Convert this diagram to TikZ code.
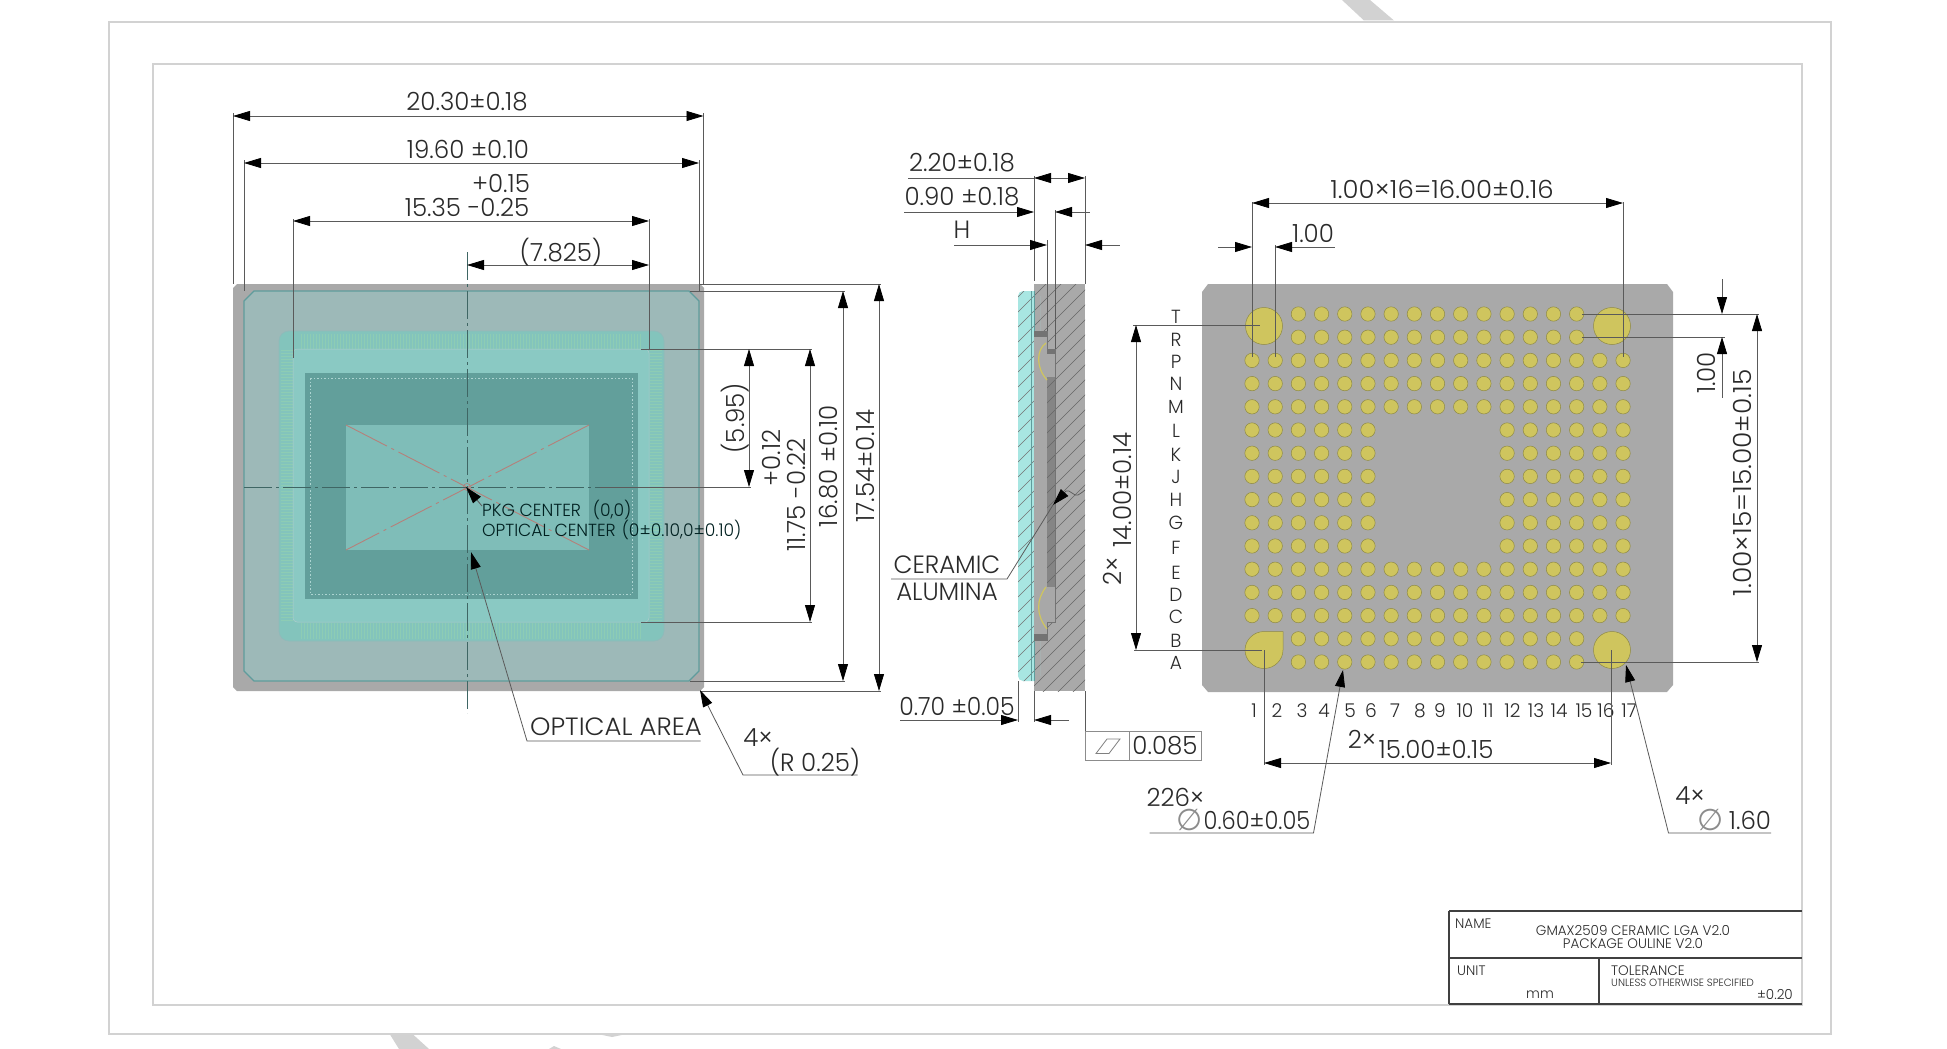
\documentclass[tikz,border=0pt]{standalone}
\usepackage{fontspec}
\usetikzlibrary{arrows.meta}
\setmainfont{Poppins}[UprightFont=* Light,FakeStretch=0.98]
\newfontfamily\symfont{DejaVu Sans}
\definecolor{pkg}{HTML}{A9A9A9}
\definecolor{frameg}{HTML}{D2D2D2}
\definecolor{glassf}{HTML}{9DB9B8}
\definecolor{glassb}{HTML}{5F9C9C}
\definecolor{subf}{HTML}{83C4BC}
\definecolor{innerf}{HTML}{8AC9C3}
\definecolor{dief}{HTML}{629F9B}
\definecolor{optf}{HTML}{7FBDB8}
\definecolor{bandg}{HTML}{8DCCB4}
\definecolor{padf}{HTML}{CFC55E}
\definecolor{padb}{HTML}{8F8A45}
\definecolor{dimc}{HTML}{5A5A5A}
\definecolor{txtc}{HTML}{2A2A2A}
\definecolor{redl}{HTML}{B5807A}
\definecolor{cyanf}{HTML}{A8E6E2}
\definecolor{cline}{HTML}{3F6664}
\tikzset{
  dimline/.style={draw=dimc,line width=0.8pt},
  dim/.style={dimline,{Triangle[length=17pt,width=10pt,black]}-{Triangle[length=17pt,width=10pt,black]}},
  tip/.style={dimline,-{Triangle[length=17pt,width=10pt,black]}},
  ctip/.style={draw=dimc,line width=0.8pt,{Triangle[length=17pt,width=10pt,black]}-},
  lbl/.style={inner sep=0pt,text=txtc,font=\fontsize{25}{25}\selectfont},
  pkgt/.style={inner sep=0pt,anchor=west,text=black!75!teal,font=\fontsize{17.5}{17.5}\selectfont},
  tb/.style={inner sep=0pt,text=txtc,font=\fontsize{13.8}{13.8}\selectfont},
  pad/.style={fill=padf,draw=padb,line width=0.5pt},
  cdash/.style={draw=cline,line width=0.6pt,dash pattern=on 28pt off 4pt on 3pt off 4pt},
  hatch/.style={draw=black!60,line width=0.6pt},
  ghatch/.style={draw=black!55,line width=0.6pt}
}
\begin{document}
\begin{tikzpicture}[x=1pt,y=-1pt]
\useasboundingbox (0,0) rectangle (1947,1049);
\fill[white] (0,0) rectangle (1947,1049);
% background bits
\fill[frameg] (1342,0)--(1370,0)--(1394,20.5)--(1364,20.5)--cycle;
\fill[frameg] (390,1034.5)--(413,1034.5)--(429,1049)--(399,1049)--cycle;
\fill[frameg] (600,1034.5)--(624,1034.5)--(612,1037)--cycle;
\fill[frameg] (549,1049)--(554,1046)--(561,1049)--cycle;
\draw[frameg,line width=1.4pt] (109,22) rectangle (1831,1034);
\draw[frameg,line width=1.4pt] (153,64) rectangle (1802,1005);

%%% TOP VIEW
\fill[pkg] (237,284)--(700,284)--(704,288)--(704,687)--(700,691)--(237,691)--(233,687)--(233,288)--cycle;
\filldraw[fill=glassf,draw=glassb,line width=1.2pt] (254,291)--(689,291)--(699,301)--(699,671)--(689,681)--(254,681)--(244,671)--(244,301)--cycle;
\filldraw[fill=subf,draw=glassb!70,line width=0.7pt,rounded corners=10pt] (279,331) rectangle (664,641);
% bond finger bands
\foreach \x in {301,304,...,641} {
  \draw[bandg,line width=0.8pt] (\x,334)--(\x,349);
  \draw[bandg,line width=0.8pt] (\x,623)--(\x,639);
}
\foreach \y in {350,353,...,622} {
  \draw[bandg,line width=0.8pt] (281,\y)--(293,\y);
  \draw[bandg,line width=0.8pt] (650,\y)--(662,\y);
}
\filldraw[fill=innerf,draw=glassb!50,line width=0.5pt,rounded corners=4pt] (293,349) rectangle (649,622);
\fill[dief] (305,373) rectangle (638,599);
\draw[line width=1pt,draw=optf!65!white,dash pattern=on 1.5pt off 2pt] (310,378) rectangle (632,594);
\fill[optf] (346,425) rectangle (589,550);
% diagonals and centre lines
\draw[redl,line width=0.9pt,dash pattern=on 46pt off 5pt on 3pt off 5pt] (346,425)--(589,550);
\draw[redl,line width=0.9pt,dash pattern=on 46pt off 5pt on 3pt off 5pt] (589,425)--(346,550);
\draw[redl,line width=0.6pt] (467,487) circle (3.5pt);
\draw[cdash] (467,252)--(467,713);
\draw[cdash] (244,487)--(600,487);
\draw[dimc,line width=0.8pt] (600,487)--(751,487);

% ext lines
\draw[dimline] (233,113)--(233,284);
\draw[dimline] (703.5,113)--(703.5,284);
\draw[dimline] (244,160)--(244,291);
\draw[dimline] (699,160)--(699,291);
\draw[dimline] (293,219)--(293,358);
\draw[dimline] (649,219)--(649,349);
\draw[dimline] (700,284)--(881,284);
\draw[dimline] (690,291)--(845,291);
\draw[dimline] (641,349)--(812,349);
\draw[dimline] (641,622)--(812,622);
\draw[dimline] (690,681)--(845,681);
\draw[dimline] (700,691)--(881,691);
% dims
\draw[dim] (233,116)--(703.5,116);
\draw[dim] (244,163)--(699,163);
\draw[dim] (293,221)--(649,221);
\draw[dim] (467,265)--(649,265);
\draw[dim] (879,284)--(879,691);
\draw[dim] (843,291)--(843,681);
\draw[dim] (810,349)--(810,622);
\draw[dim] (749,349)--(749,487);

\node[lbl] (d2030) at (467,102) {20.30±0.18};
\node[lbl] (d1960) at (468,149) {19.60 ±0.10};
\node[lbl] (dplus) at (501,183) {+0.15};
\node[lbl] (d1535) at (467,207) {15.35 -0.25};
\node[lbl] (d7825) at (561,252) {(7.825)};
\node[lbl,rotate=90] (d1754) at (865,466) {17.54±0.14};
\node[lbl,rotate=90] (d1680) at (829,466) {16.80 ±0.10};
\node[lbl,rotate=90] (d1175) at (796,495) {11.75 -0.22};
\node[lbl,rotate=90] (dp012) at (771,458) {+0.12};
\node[lbl,rotate=90] (d595) at (735,418) {(5.95)};

\node[pkgt] (pk1) at (482,510) {PKG CENTER\hspace{12pt}(0,0)};
\node[pkgt] (pk2) at (482,530) {OPTICAL CENTER\hspace{6pt}(0±0.10,0±0.10)};
\coordinate (pkgc) at (466,487);
\draw[ctip] (pkgc)--(482,506);

\coordinate (oatip) at (471,552);
\coordinate (oab) at (527,741);
\draw[ctip] (oatip)--(oab)--(700.5,741);
\node[lbl] (oa) at (616,727) {\scalebox{1.06}[1]{OPTICAL AREA}};
\coordinate (rtip) at (700,690);
\draw[ctip] (rtip)--(743,775)--(857.5,775);
\node[lbl] (r4) at (758,738) {4×};
\node[lbl] (r025) at (815,762) {(R 0.25)};

%%% SIDE VIEW
\fill[pkg] (1034,284) rectangle (1085,691);
\begin{scope}
\clip (1034,284) rectangle (1085,691);
\foreach \x in {600,615,...,1100} { \draw[hatch] (\x,700)--(\x+450,250); }
\end{scope}
\fill[cyanf,rounded corners=5pt] (1018,291) rectangle (1040,681);
\fill[pkg] (1034,284) rectangle (1040,691);
\begin{scope}
\clip (1034,284) rectangle (1040,691);
\foreach \x in {600,615,...,1100} { \draw[hatch] (\x,700)--(\x+450,250); }
\end{scope}
\begin{scope}
\clip[rounded corners=5pt] (1018,291) rectangle (1044,681);
\clip (1018,291) rectangle (1034,681);
\foreach \x in {600,615,...,1100} { \draw[ghatch] (\x,700)--(\x+450,250); }
\end{scope}
\draw[glassb,line width=0.5pt] (1031,291)--(1031,681);
\draw[glassb,line width=0.6pt] (1034,291)--(1034,681);
% cavity
\fill[black!34] (1034,331) rectangle (1047,640);
\fill[black!55] (1034,331) rectangle (1047,337);
\fill[black!55] (1034,634) rectangle (1047,640);
\fill[black!34] (1047,349) rectangle (1055,622);
\fill[black!55] (1047,349) rectangle (1055,354);
\fill[black!48] (1047,377) rectangle (1055,587);
\begin{scope}
\clip (1047,377) rectangle (1055,587);
\foreach \x in {600,615,...,1100} { \draw[hatch] (\x,700)--(\x+450,250); }
\end{scope}
\draw[black!55,line width=0.5pt] (1034,331)--(1047,331)--(1047,349)--(1055,349)--(1055,622)--(1047,622)--(1047,640)--(1034,640);
\draw[padf,line width=1.2pt] (1046,343) .. controls (1036,350) and (1036,368) .. (1047,380);
\draw[padf,line width=1.2pt] (1046,587) .. controls (1036,600) and (1036,615) .. (1047,629);
% side dims
\draw[dimline] (1034,176)--(1034,281);
\draw[dimline] (1085,176)--(1085,284);
\draw[dimline] (1047,240)--(1047,331);
\draw[dimline] (1055,210)--(1055,349);
\draw[dim] (1034,178)--(1085,178);
\draw[dimline] (908,178)--(1034,178);
\node[lbl] (d220) at (962,163) {2.20±0.18};
\draw[tip] (904,212)--(1034,212);
\draw[ctip] (1055,212)--(1090,212);
\node[lbl] (d090) at (962,197) {0.90 ±0.18};
\draw[tip] (954,245)--(1047,245);
\draw[ctip] (1085,245)--(1120,245);
\node[lbl] (dh) at (962,230) {H};
\draw[dimline] (1018,681)--(1018,722);
\draw[dimline] (1034,691)--(1034,722);
\draw[tip] (900,720)--(1018,720);
\draw[ctip] (1034,720)--(1069,720);
\node[lbl] (d070) at (957,706) {\scalebox{.96}[1]{0.70 ±0.05}};
% flatness
\draw[dimline] (1085,691)--(1085,731);
\draw[black!45,line width=1pt] (1085,731) rectangle (1201,760);
\draw[black!45,line width=1pt] (1129,731)--(1129,760);
\draw[black!50,line width=0.8pt] (1096,753.5)--(1107,739)--(1120,739)--(1109,753.5)--cycle;
\node[lbl] (d085) at (1165,746) {0.085};
% ceramic
\node[lbl] (cer) at (947,565) {CERAMIC};
\node[lbl] (alu) at (947,592) {ALUMINA};
\coordinate (ctipc) at (1053,505);
\draw[dimline] (ctipc)--(1007,579)--(891,579);
\draw[ctip] (ctipc)--(1066,491);
\draw[black!65,line width=0.7pt] (1066,491) .. controls (1070,489) and (1074,497) .. (1078,495) .. controls (1081,494) and (1083,491) .. (1085,490);

%%% BOTTOM VIEW
\fill[pkg] (1208,284)--(1667,284)--(1673,292)--(1673,685)--(1667,692)--(1208,692)--(1202,685)--(1202,292)--cycle;
\def\padr{7.2}
\foreach \yy in {0,1,2,3,4,5,6,7,8,9,10,11,12,13,14,15} {
  \foreach \xx in {0,1,2,3,4,5,6,7,8,9,10,11,12,13,14,15,16} {
    \pgfmathtruncatemacro{\show}{
      (\yy<2 || \yy>13) ? ((\xx>1 && \xx<15) ? 1 : 0) :
      ((\yy>=5 && \yy<=10) ? ((\xx<6 || \xx>10) ? 1 : 0) : 1)}
    \ifnum\show=1
      \path[pad] ({1252+23.19*\xx},{314+23.2*\yy}) circle (\padr pt);
    \fi
  }
}
\path[pad] (1264,326) circle (18.5pt);
\path[pad] (1612,326) circle (18.5pt);
\path[pad] (1612,650) circle (18.5pt);
\path[pad] (1283,631.5)--(1283,650) .. controls (1283,660.2) and (1274.2,668.5) .. (1264,668.5) .. controls (1253.8,668.5) and (1245,660.2) .. (1245,650) .. controls (1245,639.8) and (1253.8,631.5) .. (1264,631.5)--cycle;
% row labels
\foreach \t/\y in {T/317,R/340,P/362,N/384,M/407,L/431,K/455,J/477,H/500,G/523,F/548,E/573,D/595,C/617,B/641,A/663} {
  \node[inner sep=0pt,text=txtc,font=\fontsize{19}{19}\selectfont] at (1176,\y) {\t};
}
\foreach \t/\x in {1/1254,2/1277,3/1302,4/1324,5/1350,6/1371,7/1395,8/1420,9/1440,10/1465,11/1488,12/1512.5,13/1536,14/1559,15/1584,16/1606,17/1629} {
  \node[inner sep=0pt,text=txtc,font=\fontsize{19}{19}\selectfont] at (\x,711) {\t};
}
% bottom dims
\draw[dimline] (1252,202)--(1252,357);
\draw[dimline] (1623,202)--(1623,357);
\draw[dimline] (1275,245)--(1275,357);
\draw[dim] (1252,203)--(1623,203);
\node[lbl] (d1600) at (1442,189) {\scalebox{1.06}[1]{1.00×16=16.00±0.16}};
\draw[tip] (1218,247)--(1252,247);
\draw[ctip] (1275,247)--(1335,247);
\node[lbl] (d100a) at (1313,233) {1.00};
\draw[dimline] (1582,314)--(1759,314);
\draw[dimline] (1582,337)--(1725,337);
\draw[tip] (1722,279)--(1722,314);
\draw[ctip] (1722,337)--(1722,398);
\node[lbl,rotate=90] (d100b) at (1706,373) {1.00};
\draw[dim] (1757,314)--(1757,662);
\draw[dimline] (1581,662)--(1759,662);
\node[lbl,rotate=90] (d1500a) at (1742,483) {\scalebox{1.08}[1]{1.00×15=15.00±0.15}};
\draw[dimline] (1133,325)--(1260,325);
\draw[dimline] (1134,650)--(1262,650);
\draw[dim] (1136,325)--(1136,650);
\node[lbl,rotate=90] (d1400) at (1122,490) {14.00±0.14};
\node[lbl,rotate=90] (d2x) at (1112,571) {2×};
\draw[dimline] (1264,650)--(1264,765);
\draw[dimline] (1611,650)--(1611,765);
\draw[dim] (1264,763)--(1611,763);
\node[lbl] (d1500b) at (1436,749) {15.00±0.15};
\node[lbl] (d2xb) at (1362,739) {2×};
\coordinate (ptip) at (1343,670);
\draw[ctip] (ptip)--(1313.5,833)--(1149.5,833);
\node[lbl] (n226) at (1175.5,797) {226×};
\node[inner sep=0pt,text=black!45,font=\symfont\fontsize{30}{30}\selectfont] (phi1) at (1190,820) {∅};
\node[lbl] (d060) at (1257,820) {\scalebox{.92}[1]{0.60±0.05}};
\coordinate (btip) at (1626,665);
\draw[ctip] (btip)--(1668.5,833)--(1771,833);
\node[lbl] (n4) at (1690,796) {4×};
\node[inner sep=0pt,text=black!45,font=\symfont\fontsize{30}{30}\selectfont] (phi2) at (1711,820) {∅};
\node[lbl] (d160) at (1750,820) {1.60};

%%% TITLE BLOCK
\draw[black!75,line width=1.1pt] (1449,911)--(1802,911);
\draw[black!75,line width=1.1pt] (1449,958)--(1802,958);
\draw[black!75,line width=1.1pt] (1449,1004)--(1802,1004);
\draw[black!75,line width=1.1pt] (1449,911)--(1449,1004);
\draw[black!75,line width=1.1pt] (1599,958)--(1599,1004);
\node[tb,anchor=west] (tn) at (1455,924) {NAME};
\node[tb] (t1) at (1633,931) {GMAX2509 CERAMIC LGA V2.0};
\node[tb] (t2) at (1633,944) {PACKAGE OULINE V2.0};
\node[tb,anchor=west] (tu) at (1457,971) {UNIT};
\node[tb] (tm) at (1540,995) {mm};
\node[tb,anchor=west] (tt) at (1611,971) {TOLERANCE};
\node[inner sep=0pt,anchor=west,text=txtc,font=\fontsize{10.5}{10.5}\selectfont] (tus) at (1611,983) {UNLESS OTHERWISE SPECIFIED};
\node[tb,anchor=east] (tv) at (1793,994) {±0.20};
\end{tikzpicture}
\end{document}
